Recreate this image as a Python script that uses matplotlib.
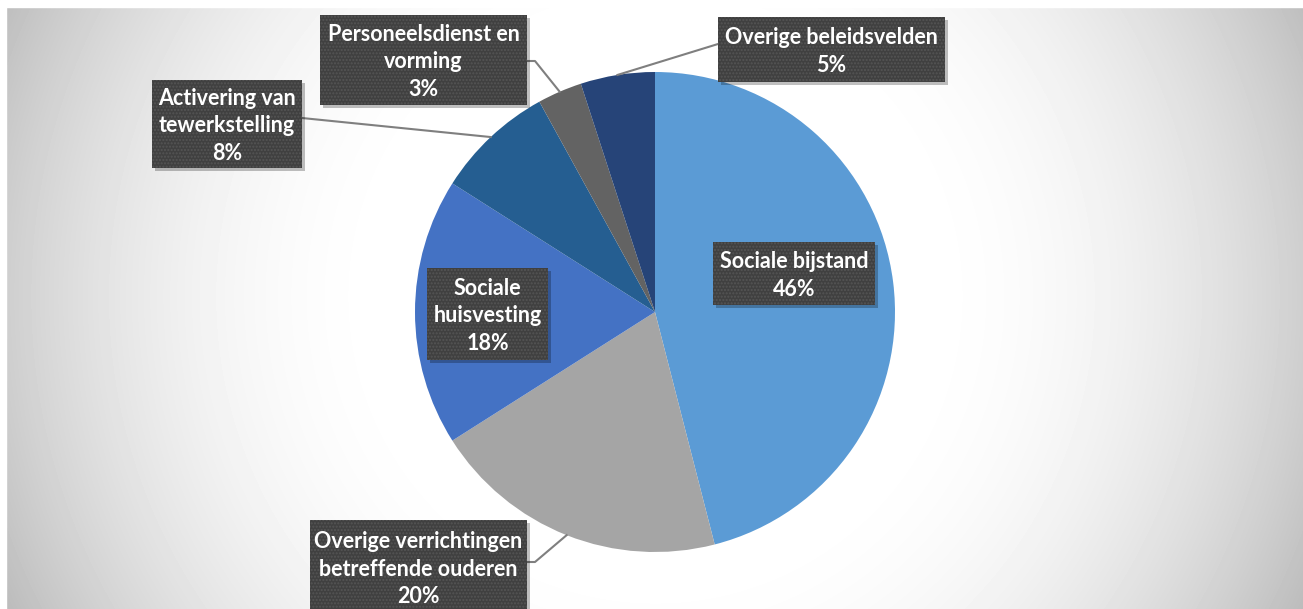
import numpy as np
import matplotlib.pyplot as plt
from matplotlib.patches import Rectangle

# Data: share per policy field, clockwise from 12 o'clock
labels = ['Sociale bijstand', 'Overige verrichtingen\nbetreffende ouderen', 'Sociale\nhuisvesting',
          'Activering van\ntewerkstelling', 'Personeelsdienst en\nvorming', 'Overige beleidsvelden']
values = [46, 20, 18, 8, 3, 5]
colors = ['#5B9BD5', '#A5A5A5', '#4472C4', '#255E91', '#636363', '#264478']

# label box layout in pixels (x0, y0, x1, y1 from top-left) and leader start/elbow
boxes = [(713, 242, 875, 305), (310, 520, 527, 614), (427, 268, 548, 360),
         (152, 80, 302, 168), (320, 15, 527, 105), (718, 17, 945, 82)]
leaders = [None, [(527, 562), (535, 562)], None,
           [(302, 118)], [(527, 61), (535, 61)], [(718, 44)]]

W, H = 1303, 609
fig = plt.figure(figsize=(W / 100, H / 100), dpi=100)
ax = fig.add_axes([0, 0, 1, 1])

# radial grey background
cx, cy, r = 655, 312, 240
yy, xx = np.mgrid[0:H, 0:W]
d = np.hypot(xx - cx, yy - cy)
v = 1 - 1.2e-6 * np.clip(d - 250, 0, None) ** 2
ax.imshow(v, cmap='gray', vmin=0, vmax=1, extent=[0, W, H, 0], origin='upper', zorder=0)
# white margin on top and left
ax.add_patch(Rectangle((0, H - 7), W, 7, color='white', zorder=1))
ax.add_patch(Rectangle((0, 0), 6, H, color='white', zorder=1))

wedges, _ = ax.pie(values, colors=colors, startangle=90, counterclock=False,
                   center=(cx, H - cy), radius=r, frame=True,
                   wedgeprops=dict(linewidth=0, zorder=2))
ax.set_xlim(0, W)
ax.set_ylim(0, H)
ax.set_aspect('equal')
ax.axis('off')

for w, lab, val, b, ld in zip(wedges, labels, values, boxes, leaders):
    x0, y0, x1, y1 = b
    if ld is not None:
        th = np.deg2rad((w.theta1 + w.theta2) / 2)
        px = [p[0] for p in ld] + [cx + r * np.cos(th)]
        py = [H - p[1] for p in ld] + [H - cy + r * np.sin(th)]
        ax.plot(px, py, color='#7f7f7f', lw=1.5, zorder=3)
    ax.add_patch(Rectangle((x0 + 3, H - y1 - 3), x1 - x0, y1 - y0,
                           color='black', alpha=0.25, lw=0, zorder=4))
    ax.add_patch(Rectangle((x0, H - y1), x1 - x0, y1 - y0,
                           facecolor='#404040', lw=0, zorder=5))
    ax.add_patch(Rectangle((x0, H - y1), x1 - x0, y1 - y0, fill=False,
                           hatch='.....', edgecolor='#555555', lw=0, zorder=6))
    ax.text((x0 + x1) / 2, H - (y0 + y1) / 2 - 2, f'{lab}\n{val}%', ha='center', va='center',
            color='white', fontsize=15.5, fontweight='bold', family='Lato',
            linespacing=1.38, zorder=7)

fig.savefig('out.png', dpi=100)
